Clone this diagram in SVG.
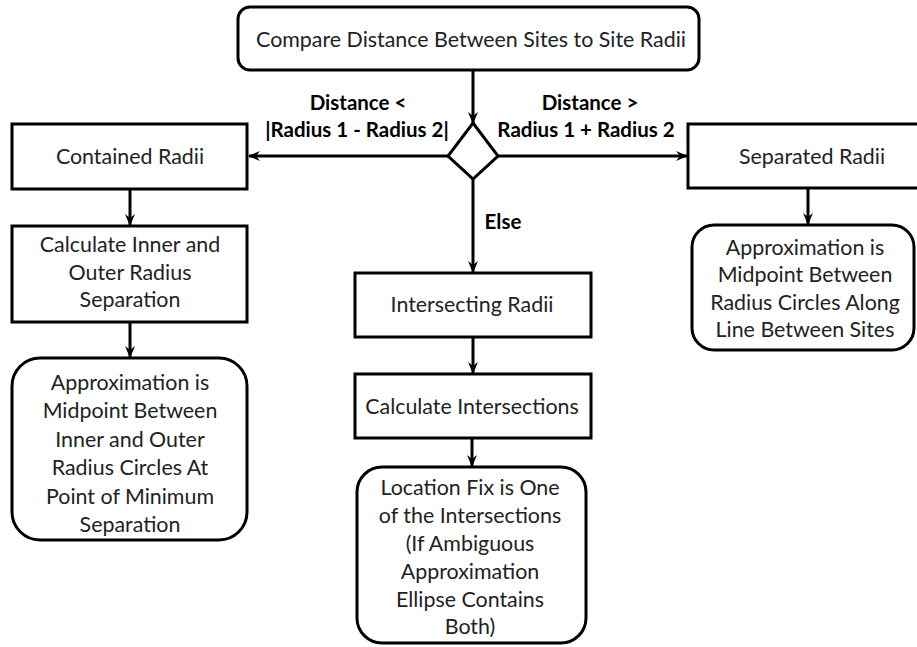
<svg xmlns="http://www.w3.org/2000/svg" width="917" height="647" viewBox="0 0 917 647">
<style>
.box{fill:#fff;stroke:#000;stroke-width:3}
.t{font-family:Lato,"Open Sans","Liberation Sans",sans-serif;font-size:21.4px;fill:#222;text-anchor:middle}
.b{font-family:Lato,"Open Sans","Liberation Sans",sans-serif;font-size:20.5px;font-weight:bold;fill:#000;text-anchor:middle}
.c{fill:none;stroke:#000;stroke-width:3}
</style>
<defs>
<marker id="ah" markerUnits="userSpaceOnUse" markerWidth="12" markerHeight="12" viewBox="0 0 12 12" refX="11" refY="6" orient="auto">
<path d="M0,1 L12,6 L0,11 L4,6 z" fill="#000"/>
</marker>
</defs>
<rect width="917" height="647" fill="#fff"/>
<g id="connectors">
<path class="c" d="M473,70 V123" marker-end="url(#ah)"/>
<path class="c" d="M448,156 H249" marker-end="url(#ah)"/>
<path class="c" d="M498,156 H687" marker-end="url(#ah)"/>
<path class="c" d="M473,179 V272" marker-end="url(#ah)"/>
<path class="c" d="M130,189 V225" marker-end="url(#ah)"/>
<path class="c" d="M130,322 V357" marker-end="url(#ah)"/>
<path class="c" d="M808,188 V224" marker-end="url(#ah)"/>
<path class="c" d="M473,337 V373" marker-end="url(#ah)"/>
<path class="c" d="M472,438 V466" marker-end="url(#ah)"/>
<text class="b" x="358" y="110">Distance &lt;</text>
<text class="b" x="357" y="137">|Radius 1 - Radius 2|</text>
<text class="b" x="590" y="110">Distance &gt;</text>
<text class="b" x="586" y="137">Radius 1 + Radius 2</text>
<text class="b" x="503" y="229">Else</text>
</g>
<g id="compare">
<rect class="box" x="238" y="7" width="461" height="63" rx="12"/>
<text class="t" x="471" y="47">Compare Distance Between Sites to Site Radii</text>
</g>
<g id="decision">
<polygon class="box" points="473,123 498,156 473,179 448,156"/>
</g>
<g id="contained">
<rect class="box" x="12" y="124" width="235" height="65"/>
<text class="t" x="130" y="164">Contained Radii</text>
</g>
<g id="calcInner">
<rect class="box" x="12" y="226" width="235" height="96"/>
<text class="t" x="130" y="252">Calculate Inner and</text>
<text class="t" x="130" y="280">Outer Radius</text>
<text class="t" x="130" y="307">Separation</text>
</g>
<g id="containedApprox">
<rect class="box" x="12" y="358" width="235" height="182" rx="28"/>
<text class="t" x="130" y="390">Approximation is</text>
<text class="t" x="130" y="418">Midpoint Between</text>
<text class="t" x="130" y="447">Inner and Outer</text>
<text class="t" x="130" y="475">Radius Circles At</text>
<text class="t" x="130" y="504">Point of Minimum</text>
<text class="t" x="130" y="532">Separation</text>
</g>
<g id="separated">
<rect class="box" x="688" y="124" width="248" height="64"/>
<text class="t" x="812" y="164">Separated Radii</text>
</g>
<g id="separatedApprox">
<rect class="box" x="692" y="225" width="222" height="125" rx="22"/>
<text class="t" x="805" y="255">Approximation is</text>
<text class="t" x="805" y="282">Midpoint Between</text>
<text class="t" x="805" y="310">Radius Circles Along</text>
<text class="t" x="805" y="337">Line Between Sites</text>
</g>
<g id="intersecting">
<rect class="box" x="355" y="273" width="236" height="64"/>
<text class="t" x="472" y="312">Intersecting Radii</text>
</g>
<g id="calcIntersections">
<rect class="box" x="355" y="374" width="236" height="64"/>
<text class="t" x="472" y="414">Calculate Intersections</text>
</g>
<g id="locationFix">
<rect class="box" x="357" y="467" width="229" height="176" rx="25"/>
<text class="t" x="470" y="495">Location Fix is One</text>
<text class="t" x="470" y="523">of the Intersections</text>
<text class="t" x="470" y="551">(If Ambiguous</text>
<text class="t" x="470" y="579">Approximation</text>
<text class="t" x="470" y="607">Ellipse Contains</text>
<text class="t" x="470" y="634">Both)</text>
</g>
</svg>
